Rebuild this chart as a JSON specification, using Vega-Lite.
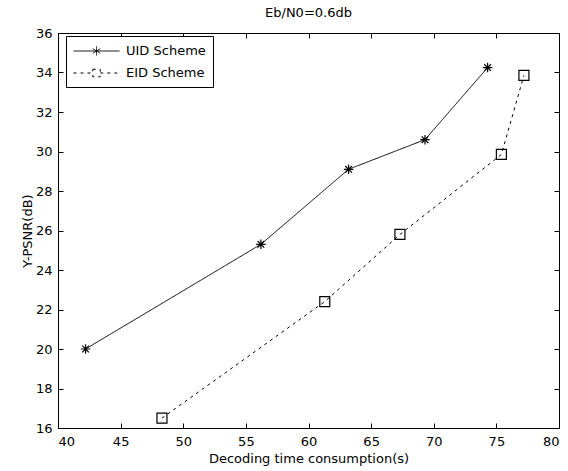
{
  "$schema": "https://vega.github.io/schema/vega-lite/v6.json",
  "autosize": {"type": "none"},
  "padding": {"left": 58, "top": 33, "right": 9, "bottom": 43},
  "width": 501,
  "height": 395,
  "background": "white",
  "title": {"text": "Eb/N0=0.6db", "fontSize": 13, "fontWeight": "normal", "font": "DejaVu Sans", "color": "black", "offset": 7},
  "config": {
    "font": "DejaVu Sans",
    "view": {"stroke": "black", "strokeWidth": 1},
    "axis": {"grid": false, "domainColor": "black", "tickColor": "black", "labelColor": "black", "titleColor": "black", "labelFontSize": 13, "titleFontSize": 13, "titleFontWeight": "normal", "labelFont": "DejaVu Sans", "titleFont": "DejaVu Sans", "tickSize": -5}
  },
  "data": {"values": [
    {"t": 42.2, "psnr": 20.0, "series": "UID Scheme"},
    {"t": 56.2, "psnr": 25.3, "series": "UID Scheme"},
    {"t": 63.2, "psnr": 29.1, "series": "UID Scheme"},
    {"t": 69.3, "psnr": 30.6, "series": "UID Scheme"},
    {"t": 74.3, "psnr": 34.25, "series": "UID Scheme"},
    {"t": 48.3, "psnr": 16.5, "series": "EID Scheme"},
    {"t": 61.3, "psnr": 22.4, "series": "EID Scheme"},
    {"t": 67.3, "psnr": 25.8, "series": "EID Scheme"},
    {"t": 75.4, "psnr": 29.85, "series": "EID Scheme"},
    {"t": 77.2, "psnr": 33.85, "series": "EID Scheme"}
  ]},
  "layer": [
    {
      "mark": {"type": "line", "color": "black", "strokeWidth": 1},
      "encoding": {
        "x": {"field": "t", "type": "quantitative", "scale": {"domain": [40, 80], "nice": false, "zero": false},
              "axis": {"orient": "bottom", "values": [40,45,50,55,60,65,70,75,80], "title": "Decoding time consumption(s)", "labelPadding": 12, "titlePadding": 4}},
        "y": {"field": "psnr", "type": "quantitative", "scale": {"domain": [16, 36], "nice": false, "zero": false},
              "axis": {"orient": "left", "values": [16,18,20,22,24,26,28,30,32,34,36], "title": "Y-PSNR(dB)", "labelPadding": 11, "titlePadding": 1}},
        "strokeDash": {"field": "series", "type": "nominal",
          "scale": {"domain": ["UID Scheme", "EID Scheme"], "range": [[1, 0], [3, 4]]},
          "legend": {"title": null, "orient": "none", "legendX": 8, "legendY": 3,
            "strokeColor": "black", "fillColor": "white", "padding": 7,
            "symbolSize": 225, "labelFontSize": 13, "labelFont": "DejaVu Sans", "labelColor": "black", "labelOffset": 37, "rowPadding": 7,
            "symbolStrokeColor": "black", "symbolStrokeWidth": 1,
            "encode": {"symbols": {"update": {
              "shape": {"signal": "datum.value === 'UID Scheme' ? 'M-1,0H5.13M2.07,-0.6V0.6M1.57,-0.3L2.57,0.3M1.57,0.3L2.57,-0.3' : 'M-1,0H1.57M2.57,0H5.13M1.57,-0.5H2.57V0.5H1.57Z'"},
              "stroke": {"value": "black"}, "fill": {"value": "transparent"}, "strokeWidth": {"value": 1}
            }}}}
        }
      }
    },
    {
      "transform": [{"filter": "datum.series === 'UID Scheme'"}],
      "mark": {"type": "point", "filled": false, "color": "black", "strokeWidth": 1.2, "opacity": 1, "size": 90, "shape": "M0,-1V1M-1,0H1M-0.7,-0.7L0.7,0.7M-0.7,0.7L0.7,-0.7"},
      "encoding": {
        "x": {"field": "t", "type": "quantitative", "axis": null},
        "y": {"field": "psnr", "type": "quantitative", "axis": null}
      }
    },
    {
      "transform": [{"filter": "datum.series === 'EID Scheme'"}],
      "mark": {"type": "point", "filled": false, "color": "black", "strokeWidth": 1.2, "opacity": 1, "size": 100, "shape": "square"},
      "encoding": {
        "x": {"field": "t", "type": "quantitative", "axis": null},
        "y": {"field": "psnr", "type": "quantitative", "axis": null}
      }
    },
    {
      "mark": {"type": "point", "opacity": 0},
      "encoding": {
        "x": {"field": "t", "type": "quantitative", "axis": {"orient": "top", "values": [40,45,50,55,60,65,70,75,80], "labels": false, "title": null}},
        "y": {"field": "psnr", "type": "quantitative", "axis": {"orient": "right", "values": [16,18,20,22,24,26,28,30,32,34,36], "labels": false, "title": null}}
      }
    }
  ],
  "resolve": {"axis": {"x": "independent", "y": "independent"}}
}
